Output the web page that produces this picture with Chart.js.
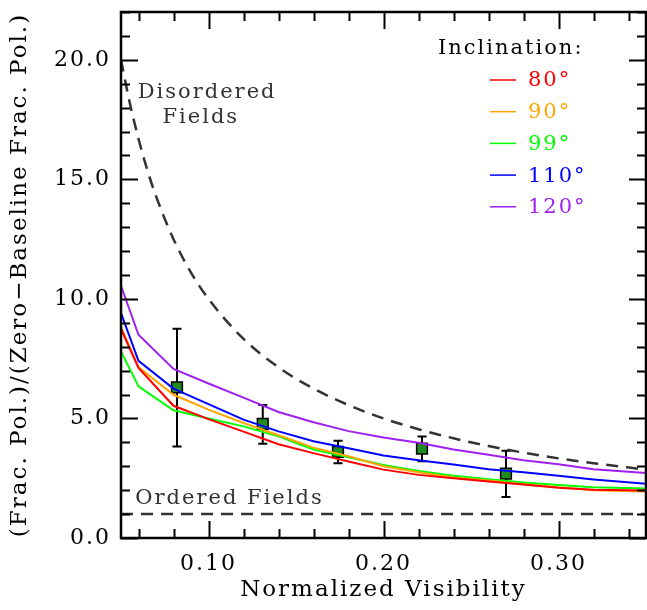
<!DOCTYPE html>
<html>
<head>
<meta charset="utf-8">
<script src="https://cdn.jsdelivr.net/npm/chart.js@4"></script>
<style>
  body { margin: 0; background: #fff; }
  canvas { display: block; }
</style>
</head>
<body>
<canvas id="visChart" width="647" height="610"></canvas>
<script>
// model curves, sampled at these visibilities
const modelVis = [0.05, 0.06, 0.08, 0.10, 0.12, 0.14, 0.16, 0.18, 0.20, 0.22, 0.24, 0.26, 0.28, 0.30, 0.32, 0.35];
const inc80  = [8.74, 7.11, 5.53, 4.97, 4.45, 3.92, 3.55, 3.20, 2.86, 2.64, 2.50, 2.36, 2.24, 2.10, 2.02, 1.99];
const inc90  = [8.82, 7.15, 5.99, 5.37, 4.81, 4.30, 3.78, 3.42, 3.00, 2.75, 2.53, 2.40, 2.25, 2.12, 2.00, 1.95];
const inc99  = [7.80, 6.34, 5.34, 5.00, 4.67, 4.25, 3.70, 3.38, 3.05, 2.80, 2.60, 2.46, 2.32, 2.22, 2.12, 2.07];
const inc110 = [9.41, 7.41, 6.25, 5.60, 4.95, 4.46, 4.05, 3.75, 3.45, 3.25, 3.07, 2.88, 2.75, 2.60, 2.45, 2.27];
const inc120 = [10.55, 8.50, 7.07, 6.46, 5.87, 5.27, 4.84, 4.47, 4.20, 3.98, 3.70, 3.48, 3.25, 3.08, 2.88, 2.72];

// disordered / ordered field limits
const disVis = [0.05, 0.055, 0.06, 0.065, 0.07, 0.08, 0.09, 0.10, 0.12, 0.14, 0.16, 0.18, 0.20, 0.22, 0.24, 0.26, 0.28, 0.30, 0.32, 0.35];
const disVal = [20.0, 18.2, 16.7, 15.4, 14.3, 12.5, 11.1, 10.0, 8.33, 7.14, 6.25, 5.56, 5.00, 4.55, 4.17, 3.85, 3.57, 3.33, 3.13, 2.86];
const ordVis = [0.05, 0.35];
const ordVal = [1.0, 1.0];

// measurements with error bars
const obsVis  = [0.082, 0.131, 0.174, 0.222, 0.270];
const obsVal  = [6.30, 4.77, 3.60, 3.74, 2.69];
const obsLow  = [3.83, 3.94, 3.13, 3.21, 1.72];
const obsHigh = [8.75, 5.56, 4.07, 4.25, 3.65];

// axes
const xTickValues = [0.10, 0.20, 0.30];
const yTickValues = [0, 5, 10, 15, 20];
const xMinorStep = 0.02;
const yMinorStep = 1;

const incLabels = ['80°', '90°', '99°', '110°', '120°'];
const incColors = ['#ff0000', '#ffa500', '#00ff00', '#0000ff', '#a020f0'];

const FONT = '"DejaVu Serif", serif';

const toPts = (xs, ys) => xs.map((x, i) => ({ x: x, y: ys[i] }));

const models = [inc80, inc90, inc99, inc110, inc120].map((vals, i) => ({
    label: incLabels[i],
    data: toPts(modelVis, vals),
    borderColor: incColors[i],
    borderWidth: 2,
    pointRadius: 0,
    inLegend: true
}));

// letter spacing to get closer to the wide plotting font
const spacing = {
    id: 'spacing',
    beforeLayout(chart) { chart.ctx.letterSpacing = '2px'; },
    beforeDraw(chart) { chart.ctx.letterSpacing = '2px'; }
};

// error bars under the squares
const errorBars = {
    id: 'errorBars',
    beforeDatasetDraw(chart, args) {
        const ds = chart.data.datasets[args.index];
        if (!ds.errLow) return;
        const xs = chart.scales.x, ys = chart.scales.y, ctx = chart.ctx;
        ctx.save();
        ctx.strokeStyle = '#000';
        ctx.lineWidth = 2;
        ds.data.forEach((p, i) => {
            const px = xs.getPixelForValue(p.x);
            const lo = ys.getPixelForValue(ds.errLow[i]);
            const hi = ys.getPixelForValue(ds.errHigh[i]);
            ctx.beginPath();
            ctx.moveTo(px, lo); ctx.lineTo(px, hi);
            ctx.moveTo(px - 4.5, lo); ctx.lineTo(px + 4.5, lo);
            ctx.moveTo(px - 4.5, hi); ctx.lineTo(px + 4.5, hi);
            ctx.stroke();
        });
        ctx.restore();
    }
};

// box with inward ticks on all four sides
const frame = {
    id: 'frame',
    afterDatasetsDraw(chart) {
        const { ctx, chartArea: a } = chart;
        const xs = chart.scales.x, ys = chart.scales.y;
        ctx.save();
        ctx.strokeStyle = '#000';
        ctx.lineWidth = 2;
        ctx.beginPath();
        for (let i = Math.ceil(xs.min / xMinorStep); i * xMinorStep <= xs.max + 1e-9; i++) {
            const v = i * xMinorStep;
            const major = xTickValues.some(t => Math.abs(t - v) < 1e-6);
            const len = major ? 17 : 9;
            const px = Math.round(xs.getPixelForValue(v)) + 0.5;
            ctx.moveTo(px, a.bottom); ctx.lineTo(px, a.bottom - len);
            ctx.moveTo(px, a.top); ctx.lineTo(px, a.top + len);
        }
        for (let i = Math.ceil(ys.min / yMinorStep); i * yMinorStep <= ys.max + 1e-9; i++) {
            const v = i * yMinorStep;
            const major = yTickValues.includes(v);
            const len = major ? 17 : 9;
            const py = Math.round(ys.getPixelForValue(v)) + 0.5;
            ctx.moveTo(a.left, py); ctx.lineTo(a.left + len, py);
            ctx.moveTo(a.right, py); ctx.lineTo(a.right - len, py);
        }
        ctx.stroke();
        ctx.lineWidth = 2.5;
        ctx.strokeRect(a.left, a.top, a.right - a.left, a.bottom - a.top);
        ctx.restore();
    }
};

// text notes and the inclination key
const notes = {
    id: 'notes',
    afterDraw(chart) {
        const ctx = chart.ctx;
        const xs = chart.scales.x, ys = chart.scales.y;
        ctx.save();
        ctx.letterSpacing = '2px';
        ctx.textBaseline = 'middle';
        ctx.font = '21px ' + FONT;
        ctx.fillStyle = '#333';
        ctx.textAlign = 'center';
        ctx.fillText('Disordered', xs.getPixelForValue(0.0992), ys.getPixelForValue(18.65));
        ctx.fillText('Fields', xs.getPixelForValue(0.0956), ys.getPixelForValue(17.6));
        ctx.textAlign = 'left';
        ctx.fillText('Ordered Fields', xs.getPixelForValue(0.0582), ys.getPixelForValue(1.65));

        ctx.fillStyle = '#000';
        ctx.fillText('Inclination:', 438, 49);
        chart.data.datasets.filter(d => d.inLegend).forEach((d, i) => {
            const y = 80 + i * 31.7;
            ctx.strokeStyle = d.borderColor;
            ctx.lineWidth = 1.5;
            ctx.beginPath();
            ctx.moveTo(490, y); ctx.lineTo(516, y);
            ctx.stroke();
            ctx.fillStyle = d.borderColor;
            ctx.fillText(d.label, 528, y + 1);
        });
        ctx.restore();
    }
};

const ctx = document.getElementById('visChart').getContext('2d');
const visChart = new Chart(ctx, {
    type: 'line',
    data: {
        datasets: [
            ...models,
            {
                label: 'Disordered',
                data: toPts(disVis, disVal),
                borderColor: '#333',
                borderWidth: 2.5,
                borderDash: [12, 8],
                pointRadius: 0,
                cubicInterpolationMode: 'monotone'
            },
            {
                label: 'Ordered',
                data: toPts(ordVis, ordVal),
                borderColor: '#333',
                borderWidth: 2.5,
                borderDash: [12, 8],
                pointRadius: 0
            },
            {
                label: 'Observed',
                data: toPts(obsVis, obsVal),
                errLow: obsLow,
                errHigh: obsHigh,
                showLine: false,
                pointStyle: 'rect',
                pointRadius: 7.6,
                pointBackgroundColor: '#228b22',
                pointBorderColor: '#000',
                pointBorderWidth: 1.5
            }
        ]
    },
    options: {
        responsive: false,
        animation: false,
        devicePixelRatio: 1,
        layout: { autoPadding: false, padding: { top: 12, right: 1, left: 0, bottom: 0 } },
        plugins: {
            legend: { display: false },
            tooltip: { enabled: false }
        },
        scales: {
            x: {
                type: 'linear',
                min: 0.05,
                max: 0.35,
                grid: { display: false, drawTicks: false },
                border: { display: false },
                afterBuildTicks: s => { s.ticks = xTickValues.map(v => ({ value: v })); },
                afterFit: s => { s.height = 72; s.paddingLeft = 0; s.paddingRight = 0; },
                ticks: {
                    padding: 13,
                    color: '#000',
                    maxRotation: 0,
                    font: { family: FONT, size: 22 },
                    callback: v => v.toFixed(2)
                },
                title: {
                    display: true,
                    text: 'Normalized Visibility',
                    color: '#000',
                    font: { family: FONT, size: 23 },
                    padding: { top: 0, bottom: 6 }
                }
            },
            y: {
                type: 'linear',
                min: 0,
                max: 22,
                grid: { display: false, drawTicks: false },
                border: { display: false },
                afterBuildTicks: s => { s.ticks = yTickValues.map(v => ({ value: v })); },
                afterFit: s => { s.width = 121; s.paddingTop = 0; s.paddingBottom = 0; },
                ticks: {
                    padding: 10,
                    color: '#000',
                    font: { family: FONT, size: 22 },
                    callback: v => v.toFixed(1)
                },
                title: {
                    display: true,
                    text: '(Frac. Pol.)/(Zero−Baseline Frac. Pol.)',
                    color: '#000',
                    font: { family: FONT, size: 23 },
                    padding: { top: 6, bottom: 0 }
                }
            }
        }
    },
    plugins: [spacing, errorBars, frame, notes]
});
</script>
</body>
</html>
